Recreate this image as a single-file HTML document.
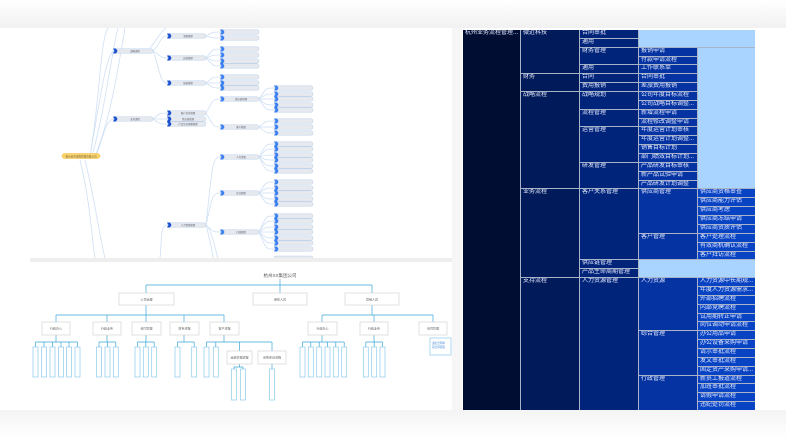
<!DOCTYPE html>
<html><head><meta charset="utf-8"><style>
*{margin:0;padding:0;box-sizing:border-box}
body{width:786px;height:439px;overflow:hidden;background:#fff;font-family:"Liberation Sans","Noto Sans CJK SC",sans-serif;position:relative}
.top{position:absolute;left:0;top:0;width:786px;height:28px;background:linear-gradient(#fff,#f1f1f1)}
.gap{position:absolute;left:452px;top:28px;width:10px;height:384px;background:#f6f6f6}
.bot{position:absolute;left:0;top:410px;width:786px;height:29px;background:linear-gradient(#f4f4f4,#fff)}
.sep{position:absolute;left:30px;top:258px;width:422px;height:4px;background:#eeeeee}
svg{position:absolute}
.tm{position:absolute;left:463px;top:30px;width:292px;height:380px;display:grid;grid-template-columns:57px 58px 58px 58px 57px;grid-template-rows:repeat(43,1fr);gap:1px;background:#aab4c8}
.tm div{color:#e8ecff;font-size:6px;line-height:7px;padding:0 2px;white-space:nowrap;overflow:hidden}
.c1{background:#000d33}.c2{background:#001a5a}.c3{background:#002479}.c4{background:#0533a2}.c5{background:#0843c4}.lb{background:#a9d4ff}
</style></head><body>
<div class="top"></div><div class="gap"></div><div class="bot"></div><div class="sep"></div>

<svg style="left:30px;top:28px" width="422" height="230" viewBox="30 28 422 230">
<g fill="none" stroke="#cfe0f5" stroke-width="0.8">
<path d="M90 156 C100 100 100 40 108 28"/><path d="M92 156 C105 110 112 50 118 28"/><path d="M95 156 C110 120 118 70 125 28"/>
<path d="M90 156 C100 100 105 60 113 51"/><path d="M96 156 C104 135 105 122 113 119"/>
<path d="M85 160 C95 200 100 240 105 258"/><path d="M80 160 C90 200 92 240 95 258"/>
<path d="M153 51 C160 45 160 36 167 36"/><path d="M153 51 C160 55 160 58 167 58"/><path d="M153 51 C160 70 160 83 167 83"/><path d="M150 48 C158 38 162 30 166 28"/>
<path d="M153 119 C160 113 160 113 167 113"/><path d="M153 119 L167 119"/><path d="M153 119 C160 124 160 124 167 124"/>
<path d="M160 258 C162 240 160 225 167 225"/><path d="M206 225 C212 230 215 250 218 258"/><path d="M206 225 C210 240 212 250 213 258"/>
<path d="M206 36 C213 32 213 32 220 32"/><path d="M206 36 C213 38 213 38 220 38"/>
<path d="M206 58 C213 49 213 49 220 49"/><path d="M206 58 C213 55 213 55 220 55"/><path d="M206 58 C213 61 213 61 220 61"/><path d="M206 58 C213 66 213 66 220 66"/>
<path d="M206 83 C213 77 213 77 220 77"/><path d="M206 83 L220 83"/><path d="M206 83 C213 88 213 88 220 88"/>
<path d="M206 113 C213 100 213 99 220 99"/><path d="M206 113 C213 125 213 127 220 127"/>
<path d="M206 225 C212 170 212 157 220 157"/><path d="M206 225 C212 198 212 193 220 193"/><path d="M206 225 C213 232 213 232 220 232"/>
<path d="M259 99 C266 88 266 88 274 88"/><path d="M259 99 C266 94 266 94 274 94"/><path d="M259 99 L274 99"/><path d="M259 99 C266 105 266 105 274 105"/><path d="M259 99 C266 110 266 110 274 110"/>
<path d="M259 127 C266 121 266 121 274 121"/><path d="M259 127 L274 127"/><path d="M259 127 C266 133 266 133 274 133"/>
<path d="M259 157 C266 144 266 144 274 144"/><path d="M259 157 C266 149 266 149 274 149"/><path d="M259 157 C266 155 266 155 274 155"/><path d="M259 157 C266 160 266 160 274 160"/><path d="M259 157 C266 166 266 166 274 166"/><path d="M259 157 C266 171 266 171 274 171"/>
<path d="M259 193 C266 182 266 182 274 182"/><path d="M259 193 C266 188 266 188 274 188"/><path d="M259 193 L274 193"/><path d="M259 193 C266 199 266 199 274 199"/><path d="M259 193 C266 204 266 204 274 204"/>
<path d="M259 232 C266 216 266 216 274 216"/><path d="M259 232 C266 221 266 221 274 221"/><path d="M259 232 C266 227 266 227 274 227"/><path d="M259 232 L274 232"/><path d="M259 232 C266 238 266 238 274 238"/><path d="M259 232 C266 243 266 243 274 243"/><path d="M259 232 C266 249 266 249 274 249"/>
</g>
<rect x="62" y="153.5" width="38" height="5" rx="2.5" fill="#fdd36a" stroke="#f0b840" stroke-width="0.5"/>
<text x="81" y="157.3" font-size="2.6" text-anchor="middle" fill="#664">杭州业务流程管理有限公司</text>
<g fill="#e6e9ee" stroke="#bcd0ea" stroke-width="0.5">
<rect x="113" y="48.8" width="40" height="4.4" rx="2"/><rect x="113" y="116.8" width="40" height="4.4" rx="2"/>
<rect x="167" y="33.8" width="39" height="4.4" rx="2"/><rect x="167" y="55.8" width="39" height="4.4" rx="2"/><rect x="167" y="80.8" width="39" height="4.4" rx="2"/><rect x="167" y="110.8" width="39" height="4.4" rx="2"/><rect x="167" y="116.8" width="39" height="4.4" rx="2"/><rect x="167" y="121.8" width="39" height="4.4" rx="2"/><rect x="167" y="222.8" width="39" height="4.4" rx="2"/>
<rect x="220" y="29.8" width="39" height="4.4" rx="2"/><rect x="220" y="35.8" width="39" height="4.4" rx="2"/><rect x="220" y="46.8" width="39" height="4.4" rx="2"/><rect x="220" y="52.8" width="39" height="4.4" rx="2"/><rect x="220" y="58.8" width="39" height="4.4" rx="2"/><rect x="220" y="63.8" width="39" height="4.4" rx="2"/><rect x="220" y="74.8" width="39" height="4.4" rx="2"/><rect x="220" y="80.8" width="39" height="4.4" rx="2"/><rect x="220" y="85.8" width="39" height="4.4" rx="2"/><rect x="220" y="96.8" width="39" height="4.4" rx="2"/><rect x="220" y="124.8" width="39" height="4.4" rx="2"/><rect x="220" y="154.8" width="39" height="4.4" rx="2"/><rect x="220" y="190.8" width="39" height="4.4" rx="2"/><rect x="220" y="229.8" width="39" height="4.4" rx="2"/>
<rect x="274" y="85.8" width="39" height="4.4" rx="2"/><rect x="274" y="91.8" width="39" height="4.4" rx="2"/><rect x="274" y="96.8" width="39" height="4.4" rx="2"/><rect x="274" y="102.8" width="39" height="4.4" rx="2"/><rect x="274" y="107.8" width="39" height="4.4" rx="2"/>
<rect x="274" y="118.8" width="39" height="4.4" rx="2"/><rect x="274" y="124.8" width="39" height="4.4" rx="2"/><rect x="274" y="130.8" width="39" height="4.4" rx="2"/>
<rect x="274" y="141.8" width="39" height="4.4" rx="2"/><rect x="274" y="146.8" width="39" height="4.4" rx="2"/><rect x="274" y="152.8" width="39" height="4.4" rx="2"/><rect x="274" y="157.8" width="39" height="4.4" rx="2"/><rect x="274" y="163.8" width="39" height="4.4" rx="2"/><rect x="274" y="168.8" width="39" height="4.4" rx="2"/>
<rect x="274" y="179.8" width="39" height="4.4" rx="2"/><rect x="274" y="185.8" width="39" height="4.4" rx="2"/><rect x="274" y="190.8" width="39" height="4.4" rx="2"/><rect x="274" y="196.8" width="39" height="4.4" rx="2"/><rect x="274" y="201.8" width="39" height="4.4" rx="2"/>
<rect x="274" y="213.8" width="39" height="4.4" rx="2"/><rect x="274" y="218.8" width="39" height="4.4" rx="2"/><rect x="274" y="224.8" width="39" height="4.4" rx="2"/><rect x="274" y="229.8" width="39" height="4.4" rx="2"/><rect x="274" y="235.8" width="39" height="4.4" rx="2"/><rect x="274" y="240.8" width="39" height="4.4" rx="2"/><rect x="274" y="246.8" width="39" height="4.4" rx="2"/>
<rect x="274" y="256" width="39" height="4.4" rx="2"/>
</g>
<g fill="#1a4fd0">
<path d="M113 48.5h3l1.5 2.5-1.5 2.5h-3l1.5-2.5z"/><path d="M113 116.5h3l1.5 2.5-1.5 2.5h-3l1.5-2.5z"/>
<path d="M167 33.5h3l1.5 2.5-1.5 2.5h-3l1.5-2.5z"/><path d="M167 55.5h3l1.5 2.5-1.5 2.5h-3l1.5-2.5z"/><path d="M167 80.5h3l1.5 2.5-1.5 2.5h-3l1.5-2.5z"/><path d="M167 110.5h3l1.5 2.5-1.5 2.5h-3l1.5-2.5z"/><path d="M167 116.5h3l1.5 2.5-1.5 2.5h-3l1.5-2.5z"/><path d="M167 121.5h3l1.5 2.5-1.5 2.5h-3l1.5-2.5z"/><path d="M167 222.5h3l1.5 2.5-1.5 2.5h-3l1.5-2.5z"/>
</g>
<g fill="#3a7ff0">
<path d="M220 29.5h3l1.5 2.5-1.5 2.5h-3l1.5-2.5z"/><path d="M220 35.5h3l1.5 2.5-1.5 2.5h-3l1.5-2.5z"/><path d="M220 46.5h3l1.5 2.5-1.5 2.5h-3l1.5-2.5z"/><path d="M220 52.5h3l1.5 2.5-1.5 2.5h-3l1.5-2.5z"/><path d="M220 58.5h3l1.5 2.5-1.5 2.5h-3l1.5-2.5z"/><path d="M220 63.5h3l1.5 2.5-1.5 2.5h-3l1.5-2.5z"/><path d="M220 74.5h3l1.5 2.5-1.5 2.5h-3l1.5-2.5z"/><path d="M220 80.5h3l1.5 2.5-1.5 2.5h-3l1.5-2.5z"/><path d="M220 85.5h3l1.5 2.5-1.5 2.5h-3l1.5-2.5z"/><path d="M220 96.5h3l1.5 2.5-1.5 2.5h-3l1.5-2.5z"/><path d="M220 124.5h3l1.5 2.5-1.5 2.5h-3l1.5-2.5z"/><path d="M220 154.5h3l1.5 2.5-1.5 2.5h-3l1.5-2.5z"/><path d="M220 190.5h3l1.5 2.5-1.5 2.5h-3l1.5-2.5z"/><path d="M220 229.5h3l1.5 2.5-1.5 2.5h-3l1.5-2.5z"/>
<path d="M274 85.5h3l1.5 2.5-1.5 2.5h-3l1.5-2.5z"/><path d="M274 91.5h3l1.5 2.5-1.5 2.5h-3l1.5-2.5z"/><path d="M274 96.5h3l1.5 2.5-1.5 2.5h-3l1.5-2.5z"/><path d="M274 102.5h3l1.5 2.5-1.5 2.5h-3l1.5-2.5z"/><path d="M274 107.5h3l1.5 2.5-1.5 2.5h-3l1.5-2.5z"/>
<path d="M274 118.5h3l1.5 2.5-1.5 2.5h-3l1.5-2.5z"/><path d="M274 124.5h3l1.5 2.5-1.5 2.5h-3l1.5-2.5z"/><path d="M274 130.5h3l1.5 2.5-1.5 2.5h-3l1.5-2.5z"/>
<path d="M274 141.5h3l1.5 2.5-1.5 2.5h-3l1.5-2.5z"/><path d="M274 146.5h3l1.5 2.5-1.5 2.5h-3l1.5-2.5z"/><path d="M274 152.5h3l1.5 2.5-1.5 2.5h-3l1.5-2.5z"/><path d="M274 157.5h3l1.5 2.5-1.5 2.5h-3l1.5-2.5z"/><path d="M274 163.5h3l1.5 2.5-1.5 2.5h-3l1.5-2.5z"/><path d="M274 168.5h3l1.5 2.5-1.5 2.5h-3l1.5-2.5z"/>
<path d="M274 179.5h3l1.5 2.5-1.5 2.5h-3l1.5-2.5z"/><path d="M274 185.5h3l1.5 2.5-1.5 2.5h-3l1.5-2.5z"/><path d="M274 190.5h3l1.5 2.5-1.5 2.5h-3l1.5-2.5z"/><path d="M274 196.5h3l1.5 2.5-1.5 2.5h-3l1.5-2.5z"/><path d="M274 201.5h3l1.5 2.5-1.5 2.5h-3l1.5-2.5z"/>
<path d="M274 213.5h3l1.5 2.5-1.5 2.5h-3l1.5-2.5z"/><path d="M274 218.5h3l1.5 2.5-1.5 2.5h-3l1.5-2.5z"/><path d="M274 224.5h3l1.5 2.5-1.5 2.5h-3l1.5-2.5z"/><path d="M274 229.5h3l1.5 2.5-1.5 2.5h-3l1.5-2.5z"/><path d="M274 235.5h3l1.5 2.5-1.5 2.5h-3l1.5-2.5z"/><path d="M274 240.5h3l1.5 2.5-1.5 2.5h-3l1.5-2.5z"/><path d="M274 246.5h3l1.5 2.5-1.5 2.5h-3l1.5-2.5z"/>
</g>
<g font-size="2.4" fill="#556" text-anchor="middle">
<text x="135" y="52">战略流程</text><text x="135" y="120">业务流程</text>
<text x="188" y="37">流程管理</text><text x="188" y="59">运营管理</text><text x="188" y="84">研发管理</text><text x="188" y="114">客户关系管理</text><text x="188" y="120">供应链管理</text><text x="188" y="125">产品生命周期管理</text><text x="188" y="226">人力资源管理</text>
<text x="241" y="100">供应商管理</text><text x="241" y="128">客户管理</text><text x="241" y="158">人力资源</text><text x="241" y="194">综合管理</text><text x="241" y="233">行政管理</text>
</g>
</svg>

<svg style="left:30px;top:262px" width="422" height="148" viewBox="30 262 422 148">
<text x="280" y="277" font-size="4.5" text-anchor="middle" fill="#555">杭州XX集团公司</text>
<g fill="none" stroke="#3aa6d8" stroke-width="0.7">
<path d="M280 279v6M146 285h226M146 285v8M280 285v8M372 285v8"/>
<path d="M146 305v10M56 315h168M56 315v7M107 315v7M146 315v7M184 315v7M224 315v7"/>
<path d="M372 305v10M322 315h111M322 315v7M374 315v7M433 315v7"/>
<path d="M56 335v7M35.5 342h42M35.5 342v5M44 342v5M52.5 342v5M61 342v5M69 342v5M77.5 342v5"/>
<path d="M107 335v7M99 342h16.5M99 342v5M107.5 342v5M115.8 342v5"/>
<path d="M146 335v7M137.5 342h16.5M137.5 342v5M145.8 342v5M154.2 342v5"/>
<path d="M184 335v7M177.5 342h16.5M177.5 342v5M194.2 342v5"/>
<path d="M224 335v7M206.5 342h65.5M206.5 342v5M215.8 342v5M239.5 342v9M272 342v9"/>
<path d="M239.5 364v3M234 367h9M234 367v2M243 367v2M272 364v5"/>
<path d="M322 335v7M302.5 342h41.7M302.5 342v5M310.8 342v5M319.2 342v5M327.5 342v5M335.8 342v5M344.2 342v5"/>
<path d="M374 335v7M365.8 342h16.7M365.8 342v5M374.2 342v5M382.5 342v5"/>
</g>
<g fill="#fff" stroke="#d4d4d4" stroke-width="0.7">
<rect x="119" y="293" width="55" height="12"/><rect x="253" y="293" width="54" height="12"/><rect x="345" y="293" width="54" height="12"/>
<rect x="42" y="322" width="28" height="13"/><rect x="93" y="322" width="28" height="13"/><rect x="132" y="322" width="29" height="13"/><rect x="170" y="322" width="29" height="13"/><rect x="210" y="322" width="29" height="13"/>
<rect x="308" y="322" width="29" height="13"/><rect x="360" y="322" width="28" height="13"/><rect x="419" y="322" width="28" height="13"/>
<rect x="227" y="351" width="25" height="13"/><rect x="258" y="351" width="28" height="13"/>
</g>
<g fill="#fff" stroke="#8ccbea" stroke-width="0.7">
<rect x="33" y="347" width="5" height="30"/><rect x="41.5" y="347" width="5" height="30"/><rect x="50" y="347" width="5" height="30"/><rect x="58.5" y="347" width="5" height="30"/><rect x="66.5" y="347" width="5" height="30"/><rect x="75" y="347" width="5" height="30"/>
<rect x="96.5" y="347" width="5" height="30"/><rect x="105" y="347" width="5" height="30"/><rect x="113.3" y="347" width="5" height="30"/>
<rect x="135" y="347" width="5" height="30"/><rect x="143.3" y="347" width="5" height="30"/><rect x="151.7" y="347" width="5" height="30"/>
<rect x="175" y="347" width="5" height="30"/><rect x="191.7" y="347" width="5" height="30"/>
<rect x="204" y="347" width="5" height="30"/><rect x="213.3" y="347" width="5" height="30"/>
<rect x="231.5" y="369" width="5" height="31"/><rect x="240.5" y="369" width="5" height="31"/><rect x="269.5" y="369" width="5" height="31"/>
<rect x="300" y="347" width="5" height="30"/><rect x="308.3" y="347" width="5" height="30"/><rect x="316.7" y="347" width="5" height="30"/><rect x="325" y="347" width="5" height="30"/><rect x="333.3" y="347" width="5" height="30"/><rect x="341.7" y="347" width="5" height="30"/>
<rect x="363.3" y="347" width="5" height="30"/><rect x="371.7" y="347" width="5" height="30"/><rect x="380" y="347" width="5" height="30"/>
<rect x="430" y="338" width="21" height="17"/>
</g>
<g font-size="3" fill="#666" text-anchor="middle">
<text x="146.5" y="300.5">公司治理</text><text x="280" y="300.5">审核人员</text><text x="372" y="300.5">营销人员</text>
<text x="56" y="329.5">行政办公</text><text x="107" y="329.5">行政业务</text><text x="146.5" y="329.5">合同管理</text><text x="184.5" y="329.5">财务流程</text><text x="224.5" y="329.5">客户流程</text>
<text x="322.5" y="329.5">行政办公</text><text x="374" y="329.5">行政业务</text><text x="433" y="329.5">合同管理</text>
<text x="239.5" y="358.5">运输管理流程</text><text x="272" y="358.5">采购申请流程</text>
</g>
<g font-size="2.6" fill="#3a7fd0"><text x="432" y="344">退出合同申</text><text x="432" y="348">请合同流程</text></g>
</svg>

<div class="tm">
<div class="c1" style="grid-area:1/1/44/2">杭州业务流程管理...</div>
<div class="c2" style="grid-area:1/2/6/3">微近科技</div>
<div class="c2" style="grid-area:6/2/8/3">财务</div>
<div class="c2" style="grid-area:8/2/19/3">战略流程</div>
<div class="c2" style="grid-area:19/2/29/3">业务流程</div>
<div class="c2" style="grid-area:29/2/44/3">支持流程</div>
<div class="c3" style="grid-area:1/3/2/4">合同审批</div>
<div class="c3" style="grid-area:2/3/3/4">通用</div>
<div class="c3" style="grid-area:3/3/5/4">财务管理</div>
<div class="c3" style="grid-area:5/3/6/4">通用</div>
<div class="c3" style="grid-area:6/3/7/4">合同</div>
<div class="c3" style="grid-area:7/3/8/4">费用报销</div>
<div class="c3" style="grid-area:8/3/10/4">战略规划</div>
<div class="c3" style="grid-area:10/3/12/4">流程管理</div>
<div class="c3" style="grid-area:12/3/16/4">运营管理</div>
<div class="c3" style="grid-area:16/3/19/4">研发管理</div>
<div class="c3" style="grid-area:19/3/27/4">客户关系管理</div>
<div class="c3" style="grid-area:27/3/28/4">供应链管理</div>
<div class="c3" style="grid-area:28/3/29/4">产品生命周期管理</div>
<div class="c3" style="grid-area:29/3/44/4">人力资源管理</div>
<div class="lb" style="grid-area:1/4/3/6"></div>
<div class="lb" style="grid-area:3/5/19/6"></div>
<div class="lb" style="grid-area:27/4/29/6"></div>
<div class="c4" style="grid-area:3/4/4/5">报销申请</div>
<div class="c4" style="grid-area:4/4/5/5">付款申请流程</div>
<div class="c4" style="grid-area:5/4/6/5">工作联系单</div>
<div class="c4" style="grid-area:6/4/7/5">合同审批</div>
<div class="c4" style="grid-area:7/4/8/5">差旅费用报销</div>
<div class="c4" style="grid-area:8/4/9/5">公司年度目标流程</div>
<div class="c4" style="grid-area:9/4/10/5">公司战略目标调整...</div>
<div class="c4" style="grid-area:10/4/11/5">新增流程申请</div>
<div class="c4" style="grid-area:11/4/12/5">流程修改调整申请</div>
<div class="c4" style="grid-area:12/4/13/5">年度运营计划审核</div>
<div class="c4" style="grid-area:13/4/14/5">年度运营计划调整...</div>
<div class="c4" style="grid-area:14/4/15/5">销售目标计划</div>
<div class="c4" style="grid-area:15/4/16/5">部门绩效目标计划...</div>
<div class="c4" style="grid-area:16/4/17/5">产品研发目标审核</div>
<div class="c4" style="grid-area:17/4/18/5">新产品试验申请</div>
<div class="c4" style="grid-area:18/4/19/5">产品研发计划调整</div>
<div class="c4" style="grid-area:19/4/24/5">供应商管理</div>
<div class="c4" style="grid-area:24/4/27/5">客户管理</div>
<div class="c4" style="grid-area:29/4/35/5">人力资源</div>
<div class="c4" style="grid-area:35/4/40/5">综合管理</div>
<div class="c4" style="grid-area:40/4/44/5">行政管理</div>
<div class="c5" style="grid-area:19/5/20/6">供应商资格审查</div>
<div class="c5" style="grid-area:20/5/21/6">供应商能力评估</div>
<div class="c5" style="grid-area:21/5/22/6">供应商考虑</div>
<div class="c5" style="grid-area:22/5/23/6">供应商冻结申请</div>
<div class="c5" style="grid-area:23/5/24/6">供应商资质评估</div>
<div class="c5" style="grid-area:24/5/25/6">客户处理流程</div>
<div class="c5" style="grid-area:25/5/26/6">有效商机确认流程</div>
<div class="c5" style="grid-area:26/5/27/6">客户拜访流程</div>
<div class="c5" style="grid-area:29/5/30/6">人力资源中长期规...</div>
<div class="c5" style="grid-area:30/5/31/6">年度人力资源需求...</div>
<div class="c5" style="grid-area:31/5/32/6">外部招聘流程</div>
<div class="c5" style="grid-area:32/5/33/6">内部竞聘流程</div>
<div class="c5" style="grid-area:33/5/34/6">试用期转正申请</div>
<div class="c5" style="grid-area:34/5/35/6">岗位调动申请流程</div>
<div class="c5" style="grid-area:35/5/36/6">办公用品申请</div>
<div class="c5" style="grid-area:36/5/37/6">办公设备采购申请</div>
<div class="c5" style="grid-area:37/5/38/6">请示审批流程</div>
<div class="c5" style="grid-area:38/5/39/6">发文审批流程</div>
<div class="c5" style="grid-area:39/5/40/6">固定资产采购申请...</div>
<div class="c5" style="grid-area:40/5/41/6">新员工报道流程</div>
<div class="c5" style="grid-area:41/5/42/6">加班审批流程</div>
<div class="c5" style="grid-area:42/5/43/6">请假申请流程</div>
<div class="c5" style="grid-area:43/5/44/6">违纪处罚流程</div>
</div>
</body></html>
